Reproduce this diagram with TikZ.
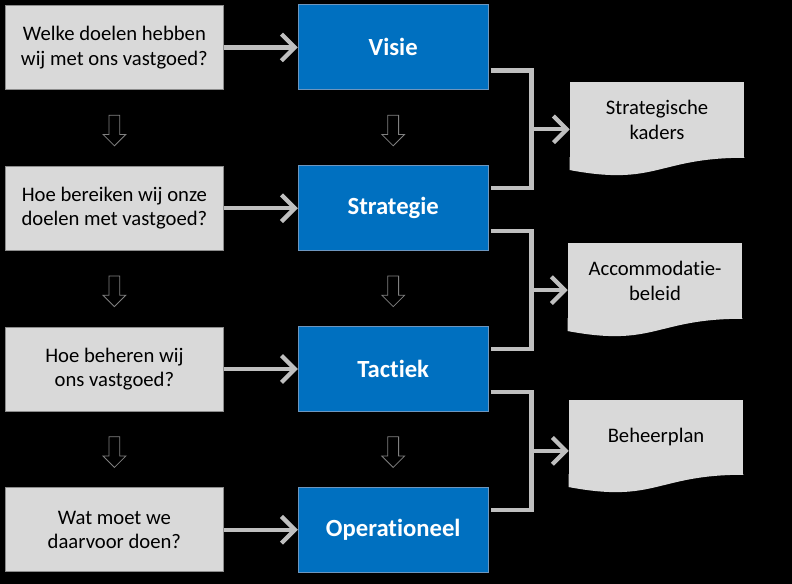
\documentclass[tikz,border=0pt]{standalone}
\usepackage{fontspec}
\setmainfont{Carlito}[Ligatures=NoCommon]
\usetikzlibrary{arrows.meta,shapes.arrows,positioning,calc}
\definecolor{boxgrey}{RGB}{217,217,217}
\definecolor{edgegrey}{RGB}{140,140,140}
\definecolor{linkgrey}{RGB}{191,191,191}
\definecolor{phaseblue}{RGB}{0,112,192}
\definecolor{phaseedge}{RGB}{110,150,190}
\begin{document}
\begin{tikzpicture}[
    x=0.75pt,y=-0.75pt,
    node distance=57pt and 55.5pt,
    box/.style={minimum width=163.5pt,minimum height=63pt,
                text centered,align=center,inner sep=2pt,
                font=\fontsize{15.5}{18.5}\selectfont},
    qs/.style={box,fill=boxgrey,draw=edgegrey,line width=0.6pt},
    ps/.style={box,fill=phaseblue,draw=phaseedge,line width=0.6pt,text=white,
               minimum width=142.5pt,minimum height=63.75pt,
               font=\fontsize{18.5}{22}\selectfont\bfseries},
    ds/.style={fill=boxgrey,minimum width=130.5pt,minimum height=56.25pt,
               align=center,inner sep=2pt,font=\fontsize{15.5}{18.5}\selectfont},
    arr/.style={-{Straight Barb[length=10pt,width=20pt]},linkgrey,line width=3.2pt},
    link/.style={linkgrey,line width=3.2pt},
    down/.style={single arrow,rotate=-90,draw=gray,fill=black,
                 line width=0.6pt,minimum height=23pt,inner xsep=0pt,
                 inner ysep=3.75pt,single arrow head extend=4.5pt},
  ]
    \fill[black](0,0) rectangle (792,584);
    \node[qs,anchor=north west](q1) at (5,5){Welke doelen hebben\\wij met ons vastgoed?};
    \node[qs,below=of q1](q2){Hoe bereiken wij onze\\doelen met vastgoed?};
    \node[qs,below=of q2](q3){Hoe beheren wij\\ons vastgoed?};
    \node[qs,below=of q3](q4){Wat moet we\\daarvoor doen?};
    \node[ps,right=of q1](v1){Visie};
    \node[ps,right=of q2](v2){Strategie};
    \node[ps,right=of q3](v3){Tactiek};
    \node[ps,right=of q4](v4){Operationeel};
    \node[ds](doc1) at (657,120){Strategische\\kaders};
    \node[ds](doc2) at (655,281){Accommodatie-\\beleid};
    \node[ds](doc3) at (656,437){Beheerplan};
    \foreach \d in {doc1,doc2,doc3}
      \fill[boxgrey]([yshift=.5pt]\d.south west)--([yshift=.5pt]\d.south east)
        --(\d.south east) .. controls (\d.south) and ($(\d.south)+(0,28.7)$) ..
        ($(\d.south west)+(0,12.3)$)--cycle;
    \foreach \i/\j in {1/2,2/3,3/4}{
      \node[down](dq\i) at ($(q\i.south)!.5!(q\j.north)$){};
      \node[down](dv\i) at ($(v\i.south)!.5!(v\j.north)$){};
      \draw[link]($(v\i.east)+(2,23)$)--++(41,0)
        |- coordinate[pos=.25](m\i) ($(v\j.east)+(2,-20)$);
      \draw[arr](m\i)--(m\i -| doc\i.west);
    }
    \foreach \i in {1,...,4}
      \draw[arr](q\i)--(v\i);
  \end{tikzpicture}
\end{document}
